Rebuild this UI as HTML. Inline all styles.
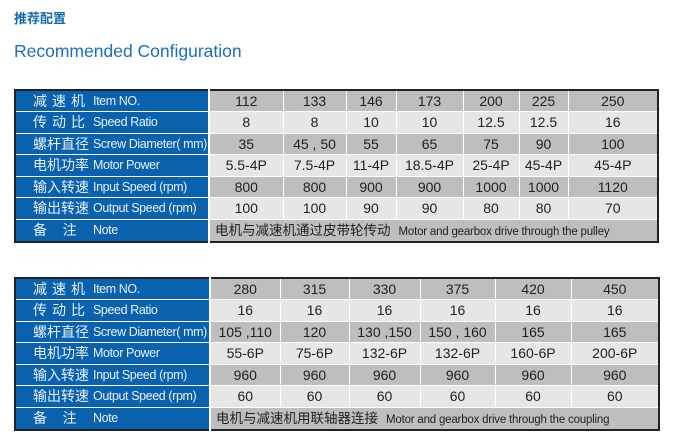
<!DOCTYPE html>
<html><head><meta charset="utf-8"><style>
body{margin:0;background:#fff;width:680px;height:448px;position:relative;overflow:hidden;font-family:"Liberation Sans","Noto Sans CJK SC",sans-serif}
.t1{position:absolute;left:14px;top:10px;font-size:13px;line-height:16px;font-weight:bold;color:#1467b3;font-family:"Noto Sans CJK SC",sans-serif}
.t2{position:absolute;left:14px;top:41px;font-size:17.5px;color:#1a6fbf}
table{position:absolute;left:14px;border-collapse:collapse;border:2px solid #222;table-layout:fixed}
tr{height:21.5px}
td{height:20px;padding:0;text-align:center;font-size:14px;color:#222;border-left:1px solid #fff;border-bottom:1.5px solid #fff;white-space:nowrap;overflow:hidden;line-height:18px;box-sizing:border-box}
td.b{background:#0a62ae;color:#e8f0f8;text-align:left;border-right:2px solid #fff}
td.b span{display:inline-block;vertical-align:top;line-height:18px}
td.b span.c{width:60px;padding-left:17px;font-size:14px;font-family:"Noto Sans CJK SC",sans-serif}
td.b span.c3{letter-spacing:5px}
td.b span.e{font-size:12.5px;letter-spacing:-0.4px}
tr.d td{background:#bebebe}
tr.l td{background:#e6e6e6}
tr.d td.b,tr.l td.b{background:#0a62ae}
tr:last-child td{border-bottom:none}
td.n{text-align:left;padding-left:5px;font-family:"Noto Sans CJK SC",sans-serif;font-size:13.5px}
td.n span{font-family:"Liberation Sans",sans-serif;font-size:11.5px;margin-left:8px;letter-spacing:-0.2px}
</style></head><body>
<div class="t1">推荐配置</div>
<div class="t2">Recommended Configuration</div>
<table style="top:89px;width:644px;height:151px">
<colgroup><col style="width:194px"><col style="width:74px"><col style="width:63px"><col style="width:50px"><col style="width:67px"><col style="width:56px"><col style="width:49px"><col style="width:90px"></colgroup>
<tr class="d"><td class="b"><span class="c c3">减速机</span><span class="e">Item NO.</span></td><td>112</td><td>133</td><td>146</td><td>173</td><td>200</td><td>225</td><td>250</td></tr>
<tr class="l"><td class="b"><span class="c c3">传动比</span><span class="e">Speed Ratio</span></td><td>8</td><td>8</td><td>10</td><td>10</td><td>12.5</td><td>12.5</td><td>16</td></tr>
<tr class="d"><td class="b"><span class="c">螺杆直径</span><span class="e">Screw Diameter( mm)</span></td><td>35</td><td>45 , 50</td><td>55</td><td>65</td><td>75</td><td>90</td><td>100</td></tr>
<tr class="l"><td class="b"><span class="c">电机功率</span><span class="e">Motor Power</span></td><td>5.5-4P</td><td>7.5-4P</td><td>11-4P</td><td>18.5-4P</td><td>25-4P</td><td>45-4P</td><td>45-4P</td></tr>
<tr class="d"><td class="b"><span class="c">输入转速</span><span class="e">Input Speed (rpm)</span></td><td>800</td><td>800</td><td>900</td><td>900</td><td>1000</td><td>1000</td><td>1120</td></tr>
<tr class="l"><td class="b"><span class="c">输出转速</span><span class="e">Output Speed (rpm)</span></td><td>100</td><td>100</td><td>90</td><td>90</td><td>80</td><td>80</td><td>70</td></tr>
<tr class="d"><td class="b"><span class="c">备&nbsp;&nbsp;&nbsp;&nbsp;&nbsp;注</span><span class="e">Note</span></td><td class="n" colspan="7">电机与减速机通过皮带轮传动<span>Motor and gearbox drive through the pulley</span></td></tr>
</table>
<table style="top:277px;width:644px;height:151px">
<colgroup><col style="width:195px"><col style="width:70px"><col style="width:69px"><col style="width:71px"><col style="width:75px"><col style="width:76px"><col style="width:88px"></colgroup>
<tr class="d"><td class="b"><span class="c c3">减速机</span><span class="e">Item NO.</span></td><td>280</td><td>315</td><td>330</td><td>375</td><td>420</td><td>450</td></tr>
<tr class="l"><td class="b"><span class="c c3">传动比</span><span class="e">Speed Ratio</span></td><td>16</td><td>16</td><td>16</td><td>16</td><td>16</td><td>16</td></tr>
<tr class="d"><td class="b"><span class="c">螺杆直径</span><span class="e">Screw Diameter( mm)</span></td><td>105 ,110</td><td>120</td><td>130 ,150</td><td>150 , 160</td><td>165</td><td>165</td></tr>
<tr class="l"><td class="b"><span class="c">电机功率</span><span class="e">Motor Power</span></td><td>55-6P</td><td>75-6P</td><td>132-6P</td><td>132-6P</td><td>160-6P</td><td>200-6P</td></tr>
<tr class="d"><td class="b"><span class="c">输入转速</span><span class="e">Input Speed (rpm)</span></td><td>960</td><td>960</td><td>960</td><td>960</td><td>960</td><td>960</td></tr>
<tr class="l"><td class="b"><span class="c">输出转速</span><span class="e">Output Speed (rpm)</span></td><td>60</td><td>60</td><td>60</td><td>60</td><td>60</td><td>60</td></tr>
<tr class="d"><td class="b"><span class="c">备&nbsp;&nbsp;&nbsp;&nbsp;&nbsp;注</span><span class="e">Note</span></td><td class="n" colspan="6">电机与减速机用联轴器连接<span>Motor and gearbox drive through the coupling</span></td></tr>
</table>
</body></html>
